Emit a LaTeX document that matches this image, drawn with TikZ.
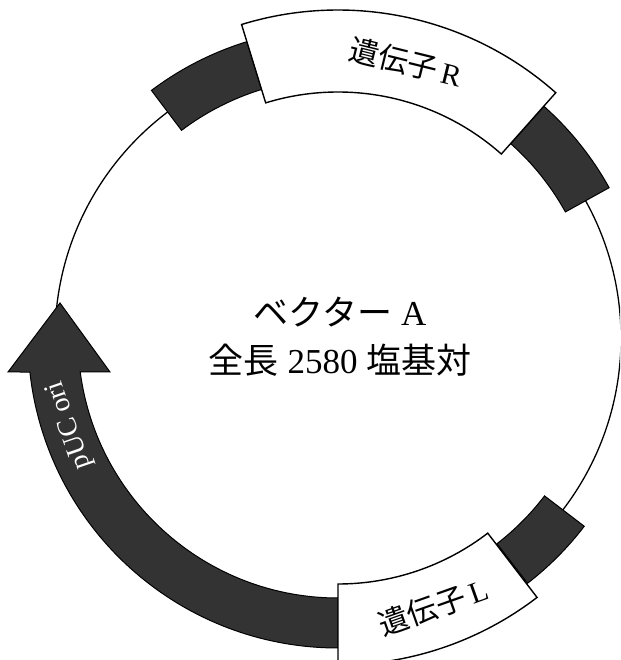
\documentclass[tikz,border=0pt]{standalone}
\usepackage{fontspec}
\setmainfont{Liberation Serif}
\newfontfamily\jp{Noto Sans CJK JP}
\begin{document}
\begin{tikzpicture}[x=1pt,y=1pt,
  darkband/.style={fill=black!80, draw=black, line width=1pt},
  genebox/.style={fill=white, draw=black, line width=1.4pt},
  ring/.style={draw=black, line width=1.3pt},
  genelabel/.style={inner sep=0pt, font=\fontsize{30pt}{34pt}\selectfont},
  orilabel/.style={inner sep=0pt, text=white, font=\fontsize{28pt}{32pt}\selectfont},
  centrelabel/.style={inner sep=0pt, align=center, font=\fontsize{35pt}{48pt}\selectfont},
]
\useasboundingbox (0,0) rectangle (620,660);
\clip (0,0) rectangle (620,660);
\begin{scope}[shift={(338,322)}]
  \coordinate (O) at (0,0);
  % plasmid backbone
  \draw[ring] (O) circle[radius=283];
  % dark flanking boxes
  \path[darkband] (107:260) arc[start angle=107,end angle=127,radius=260]
     -- (127:310) arc[start angle=127,end angle=107,radius=310] -- cycle;
  \path[darkband] (29:260) arc[start angle=29,end angle=48.4,radius=260]
     -- (48.4:310) arc[start angle=48.4,end angle=29,radius=310] -- cycle;
  \path[darkband] (-52.3:260) arc[start angle=-52.3,end angle=-37.4,radius=260]
     -- (-37.4:310) arc[start angle=-37.4,end angle=-52.3,radius=310] -- cycle;
  % pUC ori arrow
  \path[darkband] (270:260) arc[start angle=270,end angle=187.5,radius=260]
     -- (-228,-34) -- (-278,35) -- (-330,-34)
     -- (186.3:310) arc[start angle=186.3,end angle=270,radius=310] -- cycle;
  % gene boxes
  \path[genebox] (48.4:246) arc[start angle=48.4,end angle=107.1,radius=246]
     -- (107.1:328) arc[start angle=107.1,end angle=48.4,radius=328] -- cycle;
  \path[genebox] (-90:246) arc[start angle=-90,end angle=-52.5,radius=246]
     -- (-52.5:327) arc[start angle=-52.5,end angle=-90,radius=327] -- cycle;
  % labels
  \node[genelabel, rotate=-13.8] (geneR) at (76.2:284) {{\jp 遺伝子}\,R};
  \node[genelabel, rotate=19.5] (geneL) at (-70.5:285) {{\jp 遺伝子}\,L};
  \node[orilabel, rotate=109] (ori) at (198:282) {pUC ori};
  \node[centrelabel] (title) at (2,1) {{\jp ベクター} A\\{\jp 全長} 2580 {\jp 塩基対}};
\end{scope}
\end{tikzpicture}
\end{document}
